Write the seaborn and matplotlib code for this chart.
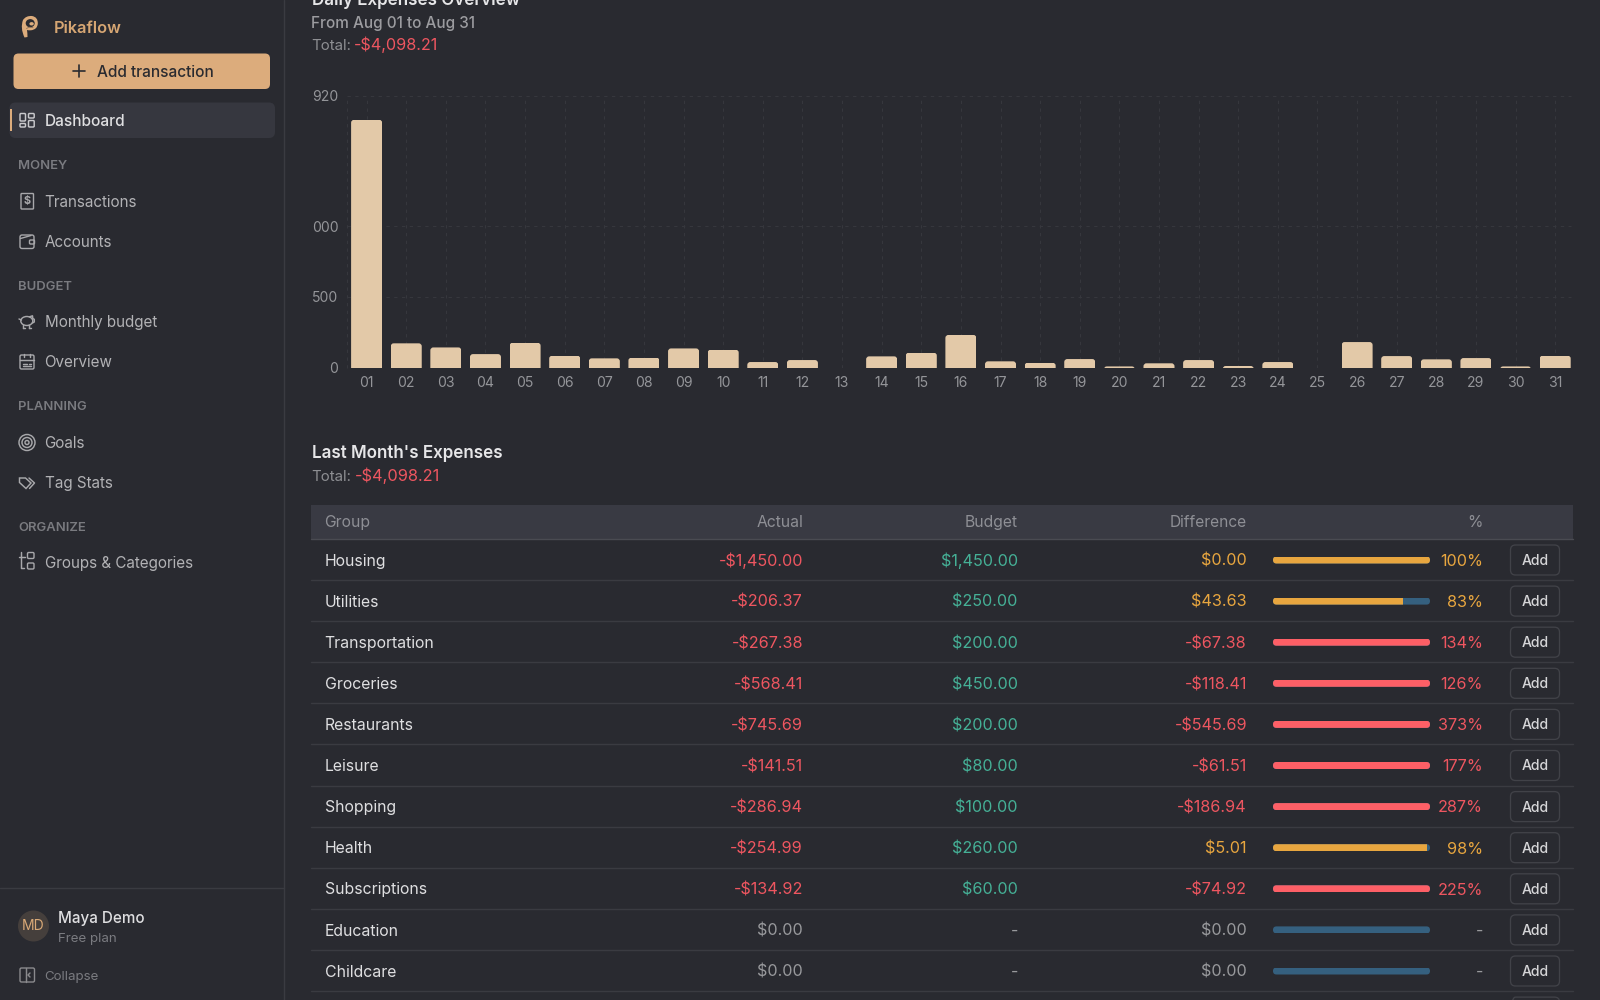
import numpy as np
import pandas as pd
import matplotlib
matplotlib.use("Agg")
import matplotlib.pyplot as plt
from matplotlib.patches import FancyBboxPatch, Rectangle, Circle, Ellipse, Polygon, PathPatch
from matplotlib.path import Path
import seaborn as sns

# ---------- data ----------
days = ["01","02","03","04","05","06","07","08","09","10","11","12","13","14","15","16",
        "17","18","19","20","21","22","23","24","25","26","27","28","29","30","31"]
daily_expenses = [1750,172,143,96,176,85,66,71,136,127,40,54,0,80,106,231,
                  45,35,61,9,31,54,12,40,0,181,82,59,68,9,85]
y_ticks = [0, 500, 1000, 1920]
y_tick_labels = ["0", "500", "000", "920"]

groups = ["Housing","Utilities","Transportation","Groceries","Restaurants","Leisure",
          "Shopping","Health","Subscriptions","Education","Childcare"]
actual = ["-$1,450.00","-$206.37","-$267.38","-$568.41","-$745.69","-$141.51",
          "-$286.94","-$254.99","-$134.92","$0.00","$0.00"]
budget = ["$1,450.00","$250.00","$200.00","$450.00","$200.00","$80.00",
          "$100.00","$260.00","$60.00","-","-"]
difference = ["$0.00","$43.63","-$67.38","-$118.41","-$545.69","-$61.51",
              "-$186.94","$5.01","-$74.92","$0.00","$0.00"]
percent_labels = ["100%","83%","134%","126%","373%","177%","287%","98%","225%","-","-"]
percent_used = [100,83,134,126,373,177,287,98,225,0,0]

nav_sections = [("MONEY",169),("BUDGET",290),("PLANNING",410),("ORGANIZE",531)]
nav_items = [("Transactions",207.3),("Accounts",247.3),("Monthly budget",326.7),("Overview",366.7),
             ("Goals",448.3),("Tag Stats",488.3),("Groups & Categories",567.7)]

# ---------- colours ----------
BG = "#292a30"; LINE = "#3a3b41"; GRID = "#36373d"
GOLD = "#dcac7c"; BAR = "#e3c9a8"; RED = "#ee5660"; GREEN = "#45b096"; AMBER = "#e8a63f"
GREY = "#98999c"; TRACK = "#35607f"; REDBAR = "#fd5f66"; WHITE = "#dfdfe1"; NAV = "#b2b2b5"
MUTED = "#7a7b80"; ICON = "#a8a8ab"

sns.set_theme(style="dark", rc={"axes.facecolor": "none", "figure.facecolor": BG})
plt.rcParams["font.family"] = ["Inter", "DejaVu Sans"]

fig = plt.figure(figsize=(16, 10), dpi=100)
fig.patch.set_facecolor(BG)
page = fig.add_axes([0, 0, 1, 1])
page.set_xlim(0, 1600); page.set_ylim(1000, 0); page.axis("off")


def px(p):
    return p * 0.72


def T(x, y, s, size=16, color=WHITE, ha="left", weight="normal", va="baseline"):
    return page.text(x, y, s, fontsize=px(size), color=color, ha=ha, va=va, fontweight=weight)


def box(x0, y0, x1, y1, r=4, fc="none", ec="none", lw=1.0, z=2):
    p = FancyBboxPatch((x0, y0), x1 - x0, y1 - y0, boxstyle=f"round,pad=0,rounding_size={r}",
                       fc=fc, ec=ec, lw=lw, zorder=z)
    page.add_patch(p)
    return p


def ln(xs, ys, c=ICON, lw=1.05, z=3):
    page.plot(xs, ys, color=c, lw=lw, zorder=z, solid_capstyle="round", solid_joinstyle="round")


# ---------- sidebar ----------
page.plot([284, 284], [0, 1000], color=LINE, lw=1)
page.plot([0, 284], [888, 888], color=LINE, lw=1)

# logo
logo = Path([(24.5, 37.5), (20, 28), (23, 20), (26, 15.5), (32, 16), (38, 17), (37.8, 23.5),
             (37.5, 29.5), (31, 30.3), (28.5, 30.5), (27, 30), (27.5, 33), (27.5, 37), (24.5, 37.5)],
            [Path.MOVETO] + [Path.CURVE3] * 12 + [Path.CLOSEPOLY])
page.add_patch(PathPatch(logo, fc=GOLD, ec="none", zorder=3))
page.add_patch(Ellipse((30.2, 23.2), 9, 8.2, fc=BG, ec="none", zorder=4))
page.add_patch(Ellipse((31.6, 23.8), 4.4, 3.4, fc=GOLD, ec="none", zorder=5))
ln([26.5, 29, 33], [28.5, 27.2, 27.6], "#8f7357", 0.6, z=6)
T(54, 33.3, "Pikaflow", 16.4, "#d6a673", weight="semibold")

box(13.5, 53.5, 270, 89, r=5, fc=GOLD)
ln([73, 85], [71, 71], "#2a2b30", 1.2); ln([79, 79], [65, 77], "#2a2b30", 1.2)
T(96.8, 77.0, "Add transaction", 15.4, "#2a2b30", weight="medium")

box(9.5, 102.5, 275, 138, r=6, fc="#36373f")
page.add_patch(Rectangle((9.5, 109), 2, 22, fc=GOLD, ec="none", zorder=3))
for a, b, c, d in [(20, 113.5, 25.5, 121), (28.5, 113.5, 34.2, 118), (20, 123.5, 25.5, 127), (28.5, 120.5, 34.2, 127)]:
    box(a, b, c, d, r=1, ec="#c9c9cc", lw=1.05, z=4)
T(44.8, 126, "Dashboard", 15.4, WHITE, weight="medium")

for s, y in nav_sections:
    T(18, y, s, 13, MUTED, weight="semibold")
for s, y in nav_items:
    T(44.6, y, s, 15.2, NAV)

# Transactions icon
box(21, 193.5, 33.5, 209, r=0.8, ec=ICON, z=3)
page.text(27.2, 201.3, "$", fontsize=px(11), color=ICON, ha="center", va="center", fontweight="bold")
# Accounts icon
box(20, 235, 34, 248.5, r=2, ec=ICON, z=3)
ln([20.5, 31], [238.5, 235.5], ICON, 1.0); box(29.5, 240, 34.5, 244, r=1, ec=ICON, z=3)
# Piggy icon
page.add_patch(Ellipse((26.8, 321), 12, 9, fc="none", ec=ICON, lw=1.05, zorder=3))
ln([19, 21.5], [319, 320], ICON); ln([29.5, 32.5, 32.8, 34.3, 34.3, 32.5], [316.8, 315.8, 318.5, 319.3, 322, 323], ICON)
ln([23.2, 23.2], [325, 327.5], ICON); ln([29, 29], [325, 327.5], ICON); ln([23.2, 25], [327.5, 327.5], ICON); ln([29, 30.8], [327.5, 327.5], ICON)
# Calendar icon
box(20, 355, 34, 369, r=1.5, ec=ICON, z=3)
ln([20, 34], [359.5, 359.5]); ln([24, 24], [353.5, 356.5]); ln([30, 30], [353.5, 356.5])
ln([23, 27], [363.5, 363.5]); ln([23, 31], [366, 366]); ln([29, 31], [363.5, 363.5])
# Goals icon
for r in (8, 5, 2):
    page.add_patch(Circle((27, 442.5), r, fc="none", ec=ICON, lw=1.05, zorder=3))
# Tag icon
page.add_patch(Polygon([(19.5, 478), (25.5, 478), (31, 483), (26, 488.5), (19.5, 482.5)], closed=True, fc="none", ec=ICON, lw=1.05, zorder=3))
ln([29, 34.5, 29.5], [478, 483, 488.5])
# Groups icon
ln([20.5, 20.5, 24], [552, 568, 568]); ln([18.5, 25], [557, 557])
box(27.5, 552.5, 34, 558.5, r=1.2, ec=ICON, z=3); box(27.5, 563, 34, 569, r=1.2, ec=ICON, z=3)
# Avatar
page.add_patch(Circle((33.5, 926), 15.5, fc="#453f3c", ec="none", zorder=2))
page.text(33.5, 926.5, "MD", fontsize=px(14), color="#d9a977", ha="center", va="center")
T(58.5, 923.3, "Maya Demo", 15.2, WHITE, weight="medium")
T(58.5, 941.7, "Free plan", 13.3, MUTED)
# Collapse
box(20, 968, 34.5, 982, r=1.5, ec="#8a8a8d", z=3)
ln([25.5, 25.5], [968, 982], "#8a8a8d"); ln([30, 28, 30], [973, 975, 977], "#8a8a8d")
T(44.6, 980, "Collapse", 13.3, MUTED)

# ---------- chart header ----------
T(311.5, 5, "Daily Expenses Overview", 17, "#e6e6e8", weight="semibold")
T(311.2, 28.3, "From Aug 01 to Aug 31", 15.3, "#9c9ca0", weight="medium")
T(311.2, 50, "Total:", 15, "#8e8f93")
T(353.8, 50, "-$4,098.21", 16.2, RED)

# ---------- bar chart ----------
X0, X1, Y_TOP, Y_ZERO = 346.8, 1575.0, 95.7, 367.7
ax = fig.add_axes([X0 / 1600, 1 - Y_ZERO / 1000, (X1 - X0) / 1600, (Y_ZERO - Y_TOP) / 1000])
df = pd.DataFrame({"day": days, "value": daily_expenses})
sns.barplot(data=df, x="day", y="value", color=BAR, width=0.783, saturation=1, ax=ax, zorder=3, linewidth=0)
ax.set_facecolor("none")
ax.set_ylim(0, 1920); ax.set_xlim(-0.5, 30.5)
ax.set_yticks(y_ticks); ax.set_yticklabels(y_tick_labels)
ax.set_xlabel(""); ax.set_ylabel("")
ax.tick_params(axis="x", length=0, pad=6.0, labelsize=px(14), labelcolor="#949599")
ax.tick_params(axis="y", length=0, pad=6, labelsize=px(14), labelcolor="#949599")
ax.grid(True, color=GRID, lw=0.8, ls=(0, (3, 4)), zorder=0)
ax.set_axisbelow(True)
for s in ax.spines.values():
    s.set_visible(False)
for gl in ax.get_ygridlines():
    gl.set_xdata([0, (1571 - X0) / (X1 - X0)])
ax.plot([-0.5, -0.5], [0, 1920], color=GRID, lw=0.8, ls=(0, (3, 4)), clip_on=False, zorder=1)
fig.canvas.draw()
to_page = ax.transData + page.transData.inverted()
for b in ax.patches:
    if b.get_height() <= 0:
        continue
    (a0, c0) = to_page.transform((b.get_x(), 0))
    (a1, c1) = to_page.transform((b.get_x() + b.get_width(), b.get_height()))
    clip = FancyBboxPatch((a0, c1), a1 - a0, (c0 - c1) + 6, boxstyle="round,pad=0,rounding_size=3",
                          transform=page.transData)
    b.set_clip_path(clip)

# ---------- table ----------
T(311.5, 458, "Last Month's Expenses", 17, "#e6e6e8", weight="semibold")
T(311.2, 480.6, "Total:", 15, "#8e8f93")
T(355, 480.6, "-$4,098.21", 16.4, RED)

TX0, TX1 = 311, 1573
page.add_patch(Rectangle((TX0, 504.5), TX1 - TX0, 34.5, fc="#393a43", ec="none", zorder=1))
page.plot([TX0, TX1], [538.6, 538.6], color="#4a4b52", lw=1, zorder=2)
COL_ACT, COL_BUD, COL_DIF, COL_PCT = 803, 1017.8, 1247, 1483
HDR = "#8e8f95"
HY = 526.6
T(324.5, HY, "Group", 15.7, HDR)
T(COL_ACT, HY, "Actual", 15.7, HDR, ha="right")
T(COL_BUD, HY, "Budget", 15.7, HDR, ha="right")
T(COL_DIF, HY, "Difference", 15.5, HDR, ha="right")
T(COL_PCT, HY, "%", 15.7, HDR, ha="right")

PITCH = 41.1
FIRST = 560.0
for i in range(len(groups) + 1):
    c = FIRST + PITCH * i
    if c + PITCH / 2 < 1000:
        page.plot([TX0, TX1], [c + PITCH / 2 - 0.5, c + PITCH / 2 - 0.5], color=LINE, lw=1, zorder=2)
    box(1510.5, c - 15, 1559.5, c + 15, r=5, ec="#414248", lw=0.95, z=3)
    if i < len(groups):
        page.text(1535, c + 5, "Add", fontsize=px(14), color="#d6d6d8", ha="center", va="baseline", fontweight="medium")

for i, g in enumerate(groups):
    y = FIRST + PITCH * i + 5.6
    has_budget = budget[i] != "-"
    over = difference[i].startswith("-")
    state = (RED if over else AMBER) if has_budget else GREY
    T(324.5, y, g, 15.8, WHITE)
    T(COL_ACT, y + 0.2, actual[i], 16.2, RED if actual[i].startswith("-") else GREY, ha="right")
    T(COL_BUD, y + 0.2, budget[i], 16.2, GREEN if has_budget else GREY, ha="right")
    T(COL_DIF, y + 0.2, difference[i], 16.2, state, ha="right")
    T(COL_PCT, y + 0.2, percent_labels[i], 16.2, state, ha="right")

# ---------- progress bars ----------
PX0, PX1 = 1273, 1430
top = FIRST - PITCH / 2
bottom = FIRST + PITCH * (len(groups) - 0.5)
pax = fig.add_axes([PX0 / 1600, 1 - bottom / 1000, (PX1 - PX0) / 1600, (bottom - top) / 1000])
pdf = pd.DataFrame({"group": groups, "track": [100] * len(groups), "used": percent_used})
thick = 7 / PITCH
sns.barplot(data=pdf, y="group", x="track", orient="h", color=TRACK, width=thick, saturation=1, ax=pax, linewidth=0, zorder=2)
fill_cols = [(REDBAR if u > 100 else AMBER) for u in percent_used]
sns.barplot(data=pdf, y="group", x="used", orient="h", hue="group", palette=fill_cols, legend=False,
            width=thick, saturation=1, ax=pax, linewidth=0, zorder=3)
pax.set_xlim(0, 100); pax.set_ylim(len(groups) - 0.5, -0.5)
pax.axis("off")
to_page2 = pax.transData + page.transData.inverted()
for b in pax.patches:
    yc = b.get_y() + b.get_height() / 2
    _, cy = to_page2.transform((0, yc))
    clip = FancyBboxPatch((PX0, cy - 3.5), PX1 - PX0, 7, boxstyle="round,pad=0,rounding_size=3.5",
                          transform=page.transData)
    b.set_clip_path(clip)

fig.savefig("out.png", dpi=100, facecolor=BG)
